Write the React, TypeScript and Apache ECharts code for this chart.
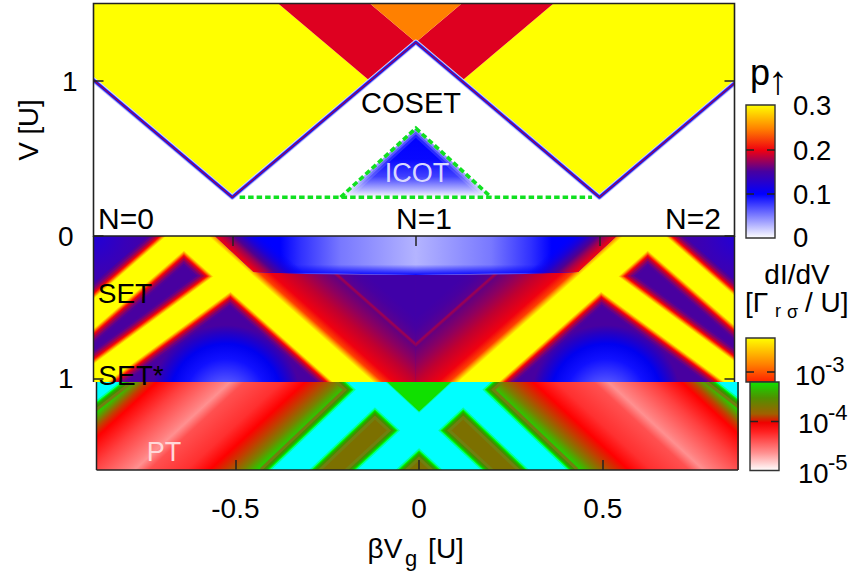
import React, { useEffect, useRef } from "react";
import * as echarts from "echarts";

// ---- axis values
const xMin = -0.878;
const xMax = 0.868;
const xTicks = [-0.5, 0, 0.5];
const topVTicks = [1];
const midVTicks = [0, 1];

// ---- top panel: p-up regions, [beta Vg, V]
const yellowLeft = [[-0.9, 1.05], [-0.5, 0.25], [-0.125, 1], [-0.38, 1.51], [-0.9, 1.51]];
const redLeft = [[-0.125, 1], [0, 1.25], [-0.13, 1.51], [-0.38, 1.51]];
const orangeTop = [[0, 1.25], [-0.13, 1.51], [0.13, 1.51]];
const cosetEdge = [[-0.9, 1.05], [-0.5, 0.25], [-0.125, 1], [0, 1.25], [0.125, 1], [0.5, 0.25], [0.9, 1.05]];
const icotTriangle = [[-0.205, 0.25], [0, 0.695], [0.205, 0.25]];
const greenBase = [[-0.48, 0.25], [0.48, 0.25]];
const greenPeak = [[-0.205, 0.25], [0, 0.695], [0.205, 0.25]];

// ---- middle panel: dI/dV ridges and regions
const midFrame = [[-0.9, -0.02], [0.9, -0.02], [0.9, 1.05], [-0.9, 1.05]];
const cornerTint = [[-0.9, -0.02], [-0.55, -0.02], [-0.9, 0.5]];
const bandA = [[-0.9676, 0.7434], [-0.5865, -0.1035]];
const bandB = [[-0.9676, 1.1615], [-0.498, 0.2797]];
const bandC = [[-0.682, -0.137], [-0.11, 1.161]];
const centralHalf = [[-0.682, -0.137], [-0.11, 1.161], [0, 1.161], [0, -0.137]];
const spotRegion = [[-0.97, 1.25], [-0.498, 0.2797], [-0.11, 1.25]];
const domeOutline = [[-0.551, -0.01], [-0.442, 0.252], [-0.3, 0.266], [0, 0.272], [0.3, 0.266], [0.442, 0.252], [0.551, -0.01]];
const domeShoulder = [[-0.551, -0.01], [-0.442, 0.252], [-0.25, 0.268], [-0.25, -0.01]];
const domeRim = [[-0.442, 0.2], [0.442, 0.2], [0.442, 0.252], [0, 0.272], [-0.442, 0.252]];

// ---- bottom panel
const lowFrame = [[-0.9, 1.0], [0.9, 1.0], [0.9, 1.66], [-0.9, 1.66]];
const leftFlank = [[-0.923, 0.937], [-0.923, 1.706], [-0.392, 1.736], [-0.12, 1.072], [-0.2015, 0.881]];
const notchTop = [[-0.1, 0.99], [0.1, 0.99], [0, 1.227]];
const bandF = [[-0.2151, 0.849], [0.1661, 1.754]];
const bandRa = [[-0.392, 1.736], [-0.12, 1.072]];
const bandCorner = [[-0.9774, 1.231], [-0.7596, 0.797]];

// ---- colour ramps
const pStops: [number, string][] = [[0, "#ffffff"], [0.33, "#0000ff"], [0.5, "#4800a0"], [0.66, "#f00010"], [0.82, "#ff8000"], [1, "#ffff00"]];
const midHalfWidths = [24, 22, 20, 18, 16.5, 15.5, 14.5, 13.5, 12.5];
const midColors = ["#50009a", "#700080", "#a00050", "#d80020", "#ff1000", "#ff5000", "#ff9000", "#ffd000", "#ffff00"];
const lowHalfWidths = [22, 19, 17, 15.5, 14.5, 13];
const lowColors = ["#70800f", "#409000", "#10c000", "#00ff00", "#00ffa0", "#00ffff"];
const centralStops: [number, string][] = [[0, "#ffff00"], [0.15, "#ffff00"], [0.18, "#ffb000"], [0.22, "#ff4000"], [0.3, "#f00010"], [0.47, "#c00030"], [0.62, "#8c0060"], [0.75, "#640080"], [0.765, "#8a0060"], [0.78, "#a00050"], [0.8, "#5a0090"], [0.9, "#4800a0"], [1, "#4000a8"]];
const spotStops: [number, string][] = [[0, "#7878ff"], [0.25, "#5050ff"], [0.55, "#1010ff"], [0.75, "#0000f0"], [0.9, "#2800c0"], [1, "#4800a0"]];
const tintStops: [number, string][] = [[0, "#2000d8"], [0.5, "#3800b8"], [1, "#4800a0"]];
const domeStops: [number, string][] = [[0, "#0000ff"], [0.13, "#0000ff"], [0.186, "#3030ff"], [0.295, "#7878ff"], [0.5, "#b4b4ff"], [0.705, "#7878ff"], [0.814, "#3030ff"], [0.87, "#0000ff"], [1, "#0000ff"]];
const shoulderStops: [number, string][] = [[0.16, "#ff5000"], [0.2, "#f00010"], [0.28, "#a00050"], [0.34, "#500090"], [0.42, "#2000d0"], [0.56, "rgba(0,0,255,0)"], [1, "rgba(0,0,255,0)"]];
const flankStops: [number, string][] = [[0, "#00ffff"], [0.067, "#00ffff"], [0.1, "#00f000"], [0.144, "#7a8000"], [0.17, "#c04000"], [0.205, "#ff0000"], [0.31, "#ff4040"], [0.436, "#ff8080"], [0.46, "#ff9090"], [0.51, "#ff5050"], [0.64, "#ff3030"], [0.72, "#ff0000"], [0.78, "#c04000"], [0.836, "#7a8000"], [0.908, "#00f000"], [0.93, "#00ffff"], [1, "#00ffff"]];
const icotStops: [number, string][] = [[0, "#0000ff"], [0.45, "#0808ff"], [0.7, "#4040ff"], [0.9, "#b8b8ff"], [1, "#ffffff"]];

// ---- labels
const pLabels = ["0.3", "0.2", "0.1", "0"];
const logExponents = ["-3", "-4", "-5"];

type Item = any;
const flip = (pts: number[][]) => pts.map(([x, v]) => [-x, v]);

const poly = (pts: number[][], fill: any): Item => ({ k: "p", pts, fill });
const lin = (from: number[], to: number[], stops: any) => ({ from, to, stops });
const line = (pts: number[][], widths: number[], colors: string[], dash?: number[]): Item => ({ k: "l", pts, widths, colors, dash });
const ridges = (lines: { pts: number[][]; pad: number }[], hw: number[], colors: string[]): Item => ({ k: "r", lines, hw, colors });
const both = (pts: number[][], pad = 0) => [{ pts, pad }, { pts: flip(pts), pad }];
const mirrorLin = (f: number[], t: number[], stops: any) => lin([-f[0], f[1]], [-t[0], t[1]], stops);

const centralFrom = [-0.3959, 0.512];
const centralTo = [-0.2336, 0.0406];
const flankFrom = [-0.7106, 0.633];
const flankTo = [-0.3512, 1.636];

const topItems: Item[] = [
  poly(yellowLeft, "#ffff00"),
  poly(flip(yellowLeft), "#ffff00"),
  poly(redLeft, "#de0020"),
  poly(flip(redLeft), "#de0020"),
  poly(orangeTop, "#ff8000"),
  line(cosetEdge, [5.5, 3.8, 2.4, 1], ["#d8d8ff", "#7070ff", "#1010e0", "#d00030"]),
  poly(icotTriangle, lin([0, 0.695], [0, 0.25], icotStops)),
  line(greenPeak, [14, 9, 5], ["rgba(255,255,255,0.14)", "rgba(255,255,255,0.22)", "rgba(255,255,255,0.35)"]),
  line(greenBase, [3.6], ["#10e020"], [5.5, 3]),
  line(greenPeak, [3.6], ["#10e020"], [5.5, 3]),
];

const spot = (sign: number) => ({
  k: "p",
  pts: sign < 0 ? spotRegion : flip(spotRegion),
  fill: { center: [sign * 0.518, 1.147], edge: [sign * 0.518, 0.622], stops: spotStops },
});
const tint = (sign: number) => ({
  k: "p",
  pts: sign < 0 ? cornerTint : flip(cornerTint),
  fill: { center: [sign * 0.878, 0], edge: [sign * 0.878, 0.45], stops: tintStops },
});

const midItems: Item[] = [
  poly(midFrame, "#4800a0"),
  tint(-1),
  tint(1),
  spot(-1),
  spot(1),
  ridges([...both(bandA, -1), ...both(bandB, -1), ...both(bandC, 1)], midHalfWidths, midColors),
  poly(centralHalf, lin(centralFrom, centralTo, centralStops)),
  poly(flip(centralHalf), mirrorLin(centralFrom, centralTo, centralStops)),
  poly(domeOutline, lin([-0.5, 0], [0.5, 0], domeStops)),
  poly(domeRim, lin([0, 0.2], [0, 0.272], [[0, "rgba(0,0,255,0)"], [1, "rgba(0,0,255,0.95)"]])),
  poly(domeShoulder, lin(centralFrom, centralTo, shoulderStops)),
  poly(flip(domeShoulder), mirrorLin(centralFrom, centralTo, shoulderStops)),
];

const lowItems: Item[] = [
  poly(lowFrame, "#7c7000"),
  poly(leftFlank, lin(flankFrom, flankTo, flankStops)),
  poly(flip(leftFlank), mirrorLin(flankFrom, flankTo, flankStops)),
  ridges([...both(bandCorner), ...both(bandRa), ...both(bandF)], lowHalfWidths, lowColors),
  poly(notchTop, "#10e000"),
];

const resolveFill = (fill: any, api: any) => {
  if (typeof fill === "string") return fill;
  const stops = fill.stops.map(([offset, color]: [number, string]) => ({ offset, color }));
  if (fill.center) {
    const c = api.coord(fill.center);
    const e = api.coord(fill.edge);
    return new echarts.graphic.RadialGradient(c[0], c[1], Math.hypot(e[0] - c[0], e[1] - c[1]), stops, true);
  }
  const a = api.coord(fill.from);
  const b = api.coord(fill.to);
  return new echarts.graphic.LinearGradient(a[0], a[1], b[0], b[1], stops, true);
};

const panelSeries = (items: Item[], idx: number) => ({
  type: "custom",
  coordinateSystem: "cartesian2d",
  xAxisIndex: idx,
  yAxisIndex: idx * 2,
  clip: true,
  silent: true,
  z: 2,
  data: items.map((_, i) => [i]),
  renderItem: (params: any, api: any) => {
    const it = items[params.dataIndex];
    if (it.k === "p") {
      const points = it.pts.map((p: number[]) => api.coord(p));
      return { type: "polygon", shape: { points }, style: { fill: resolveFill(it.fill, api) }, z2: params.dataIndex };
    }
    if (it.k === "r") {
      const children: any[] = [];
      it.hw.forEach((h: number, j: number) => {
        it.lines.forEach((l: any) => {
          children.push({
            type: "polyline",
            shape: { points: l.pts.map((p: number[]) => api.coord(p)) },
            z2: params.dataIndex,
            style: { fill: "none", stroke: it.colors[j], lineWidth: 2 * (h + l.pad) },
          });
        });
      });
      return { type: "group", children };
    }
    const points = it.pts.map((p: number[]) => api.coord(p));
    return {
      type: "group",
      children: it.widths.map((w: number, j: number) => ({
        type: "polyline",
        shape: { points },
        z2: params.dataIndex,
        style: { fill: "none", stroke: it.colors[j], lineWidth: w, lineJoin: it.dash ? "miter" : "round", lineDash: it.dash },
      })),
    };
  },
});

const FONT = "'Liberation Sans', Arial, sans-serif";
const txt = (text: string, x: number, y: number, size: number, fill = "#000", align = "center", z = 50, extra: any = {}) => ({
  type: "text", x, y, z, silent: true, ...extra,
  style: { text, fontSize: size, fontFamily: FONT, fill, align, verticalAlign: "middle" },
});
const bar = (x: number, y: number, w: number, h: number, stops: any[]) => ({
  type: "rect", z: 40, silent: true,
  shape: { x, y, width: w, height: h },
  style: { fill: new echarts.graphic.LinearGradient(0, 0, 0, 1, stops.map(([offset, color]: any) => ({ offset, color }))), stroke: "#333", lineWidth: 1.4 },
});
const seg = (x1: number, y1: number, x2: number, y2: number, c = "#222", w = 1.5) => ({
  type: "line", z: 45, silent: true, shape: { x1, y1, x2, y2 }, style: { stroke: c, lineWidth: w },
});

const lowBarStops = [[0, "#10e000"], [0.18, "#509000"], [0.36, "#a06000"], [0.46, "#f00000"], [0.56, "#ff2020"], [0.8, "#ff9090"], [1, "#ffffff"]];
const upBarStops = [[0, "#ffff00"], [0.6, "#ff8000"], [1, "#ff2000"]];
const pBarStops = pStops.map(([o, c]) => [1 - o, c]).reverse();

const graphics: any[] = [
  { type: "rect", z: 45, silent: true, shape: { x: 93.5, y: 3.5, width: 641, height: 232.5 }, style: { fill: "none", stroke: "#222", lineWidth: 1.6 } },
  seg(93.5, 236, 93.5, 382), seg(734.5, 236, 734.5, 382),
  seg(96.5, 382, 96.5, 470), seg(96.5, 470, 738, 470), seg(738, 382, 738, 470),
  txt("COSET", 411, 103, 29),
  txt("ICOT", 417, 173, 27, "#d8d8ff"),
  txt("N=0", 126, 218, 30),
  txt("N=1", 424, 218, 30),
  txt("N=2", 693, 218, 30),
  txt("SET", 125, 293, 28),
  txt("SET*", 131, 375, 28),
  txt("PT", 164, 452, 27, "#ffd8d8"),
  txt("βV", 385, 548, 28),
  txt("g", 411, 558, 22),
  txt("[U]", 446, 548, 28),
  txt("V [U]", 28, 130, 27.5, "#000", "center", 50, { rotation: Math.PI / 2 }),
  txt("p", 760, 72, 36),
  txt("↑", 778, 80, 40),
  bar(746, 105, 29, 133, pBarStops),
  seg(746, 150, 754, 150), seg(767, 150, 775, 150),
  seg(746, 194, 754, 194), seg(767, 194, 775, 194),
  ...pLabels.map((t, i) => txt(t, 793, [105, 150, 194, 237][i], 27.5, "#000", "left")),
  txt("dI/dV", 797, 274, 28),
  txt("[Γ", 745, 302, 28, "#000", "left"),
  txt("r", 775, 311, 18, "#000", "left"),
  txt("σ", 787, 312, 18, "#000", "left"),
  txt("/ U]", 805, 302, 28, "#000", "left"),
  bar(746, 338, 29, 44, upBarStops),
  seg(746, 372, 754, 372), seg(767, 372, 775, 372),
  bar(750, 382, 29, 88.5, lowBarStops),
  seg(750, 421.5, 758, 421.5), seg(771, 421.5, 779, 421.5),
  ...logExponents.flatMap((e, i) => {
    const y = [375, 423, 473][i];
    const x = i === 0 ? 795 : 798;
    return [txt("10", x, y, 27.5, "#000", "left"), txt(e, x + 30, y - 11, 22, "#000", "left")];
  }),
];

const tickAxis = (extra: any) => ({
  type: "value",
  z: 10,
  splitLine: { show: false },
  axisLine: { show: false, onZero: false },
  axisTick: { show: false },
  axisLabel: { show: false },
  ...extra,
});
const ticks = (values: number[], len = 10) => ({ show: true, inside: true, length: len, customValues: values, lineStyle: { color: "#222", width: 1.5 } });
const labels = (values: number[]) => ({ show: true, customValues: values, fontFamily: FONT, fontSize: 28, color: "#000", margin: 14, formatter: (v: number) => String(v) });

const option: any = {
  animation: false,
  backgroundColor: "#fff",
  grid: [
    { left: 93.5, top: 3.5, width: 641, height: 232.5 },
    { left: 93.5, top: 236, width: 641, height: 146 },
    { left: 96.5, top: 382, width: 641.5, height: 88 },
  ],
  xAxis: [
    tickAxis({ gridIndex: 0, min: xMin, max: xMax }),
    tickAxis({ gridIndex: 1, min: xMin, max: xMax, position: "top", axisTick: ticks(xTicks) }),
    tickAxis({ gridIndex: 2, min: xMin, max: xMax, position: "bottom", axisTick: ticks(xTicks), axisLabel: { ...labels(xTicks), margin: 24 } }),
  ],
  yAxis: [
    tickAxis({ gridIndex: 0, min: 0, max: 1.5, position: "left", axisTick: ticks(topVTicks), axisLabel: { ...labels(topVTicks), margin: 16 } }),
    tickAxis({ gridIndex: 0, min: 0, max: 1.5, position: "right", axisTick: ticks(topVTicks) }),
    tickAxis({ gridIndex: 1, min: 0, max: 1.021, inverse: true, position: "left", axisTick: ticks(midVTicks), axisLabel: { ...labels(midVTicks), margin: 20 } }),
    tickAxis({ gridIndex: 1, min: 0, max: 1.021, inverse: true, position: "right", axisTick: ticks(midVTicks) }),
    tickAxis({ gridIndex: 2, min: 1.021, max: 1.636, inverse: true, position: "left" }),
  ],
  series: [panelSeries(topItems, 0), panelSeries(midItems, 1), panelSeries(lowItems, 2)],
  graphic: { elements: graphics },
};

export default function App() {
  const ref = useRef<HTMLDivElement | null>(null);
  useEffect(() => {
    const chart = echarts.init(ref.current!, undefined, { renderer: "svg" });
    chart.setOption(option);
    return () => chart.dispose();
  }, []);
  return <div ref={ref} style={{ position: "absolute", left: 0, top: 0, width: 854, height: 576 }} />;
}
